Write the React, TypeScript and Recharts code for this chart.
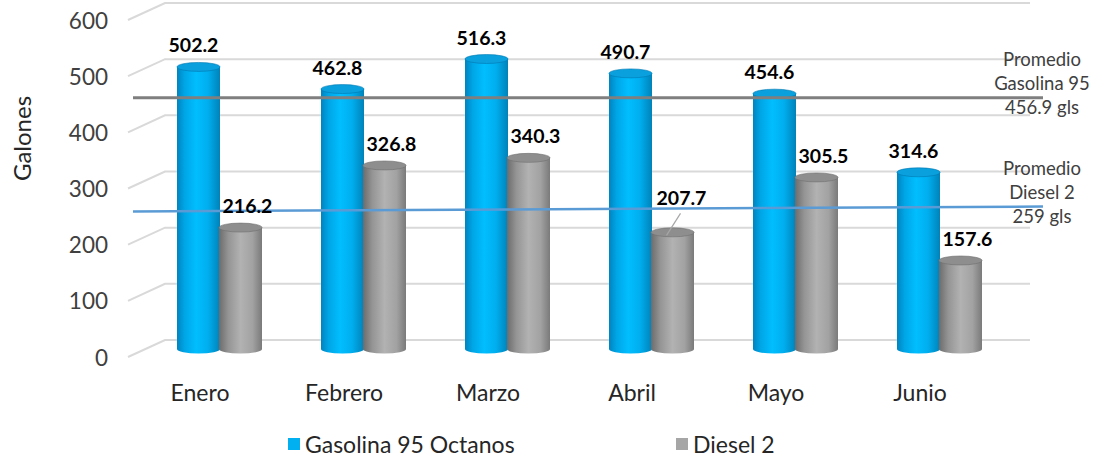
import React from 'react';
import { ComposedChart, Bar, XAxis, YAxis, CartesianGrid, ReferenceLine, LabelList } from 'recharts';

const months = ['Enero', 'Febrero', 'Marzo', 'Abril', 'Mayo', 'Junio'];
const gasolina95 = [502.2, 462.8, 516.3, 490.7, 454.6, 314.6];
const diesel2 = [216.2, 326.8, 340.3, 207.7, 305.5, 157.6];
const yTicks = [0, 100, 200, 300, 400, 500, 600];
const avgGasolina = 456.9;
const avgDiesel = 259;
const avgGasolinaLabel = ['Promedio', 'Gasolina 95', '456.9 gls'];
const avgDieselLabel = ['Promedio', 'Diesel 2', '259 gls'];
const seriesNames = ['Gasolina 95 Octanos', 'Diesel 2'];

const data = months.map((m, i) => ({ month: m, gas: gasolina95[i], diesel: diesel2[i] }));

const FONT = "Lato, 'Open Sans', sans-serif";
const BLUE = '#00B0F0';
const GRAY = '#A6A6A6';

const palettes: Record<string, { stops: [number, string][]; top: string; topEdge: string }> = {
  blue: {
    stops: [[0, '#0084BF'], [0.18, '#00A6E6'], [0.45, '#00BEFF'], [0.72, '#00AEEE'], [1, '#0082BA']],
    top: '#0A9FDD',
    topEdge: '#0078B0',
  },
  gray: {
    stops: [[0, '#6C6C6C'], [0.22, '#959595'], [0.5, '#B2B2B2'], [0.78, '#A2A2A2'], [1, '#7A7A7A']],
    top: '#8E8E8E',
    topEdge: '#6E6E6E',
  },
};

const makeCylinder = (kind: string) => (props: any) => {
  const { x, y, width, height, index } = props;
  if (width == null || height == null) return null;
  const p = palettes[kind];
  const id = `cyl-${kind}-${index}`;
  const ry = 4.5;
  const cx = x + width / 2;
  const rx = width / 2;
  return (
    <g>
      <defs>
        <linearGradient id={id} x1="0" y1="0" x2="1" y2="0">
          {p.stops.map(([o, c], k) => (
            <stop key={k} offset={o} stopColor={c} />
          ))}
        </linearGradient>
      </defs>
      <ellipse cx={cx} cy={y + height} rx={rx} ry={ry} fill={`url(#${id})`} />
      <rect x={x} y={y} width={width} height={height} fill={`url(#${id})`} />
      <ellipse cx={cx} cy={y} rx={rx} ry={ry} fill={p.top} stroke={p.topEdge} strokeWidth={0.6} />
    </g>
  );
};

const makeLabel = (kind: string) => (props: any) => {
  const { x, y, width, value, index } = props;
  const cx = x + width / 2;
  const lifted = kind === 'gray' && index === 3;
  const dx = kind === 'blue' ? -5 : 7;
  const ty = lifted ? y - 35 : y - 22;
  return (
    <g>
      {lifted && <line x1={cx - 6} y1={y + 3} x2={cx + 8} y2={y - 19} stroke="#A6A6A6" strokeWidth={1.2} />}
      <text x={cx + (lifted ? 9 : dx)} y={ty} textAnchor="middle" dominantBaseline="central"
        fontFamily={FONT} fontWeight={700} fontSize={19.5} fill="#000">
        {Number(value).toFixed(1)}
      </text>
    </g>
  );
};

const gridShape = (props: any) => {
  const { x1, x2, y1 } = props;
  return (
    <path
      d={`M${x1 - 19},${y1 + 8} L${x1 + 18},${y1 - 9} L${x2 + 19},${y1 - 9}`}
      fill="none"
      stroke="#D9D9D9"
      strokeWidth={2}
    />
  );
};

const YTick = (props: any) => {
  const { x, y, payload } = props;
  return (
    <text x={x - 39} y={y + 8} textAnchor="end" dominantBaseline="central" fontFamily={FONT} fontSize={22.5} fill="#404040">
      {payload.value}
    </text>
  );
};

const XTick = (props: any) => {
  const { x, y, payload } = props;
  return (
    <text x={x - 19} y={y + 43} textAnchor="middle" dominantBaseline="central" fontFamily={FONT} fontSize={23} fill="#262626">
      {payload.value}
    </text>
  );
};

const avgShape = (color: string, width: number, lines: string[], dl: number, dr: number) => (props: any) => {
  const { x1, x2, y1 } = props;
  const yl = y1 + dl;
  const yr = y1 + dr;
  const tx = x2 + 31;
  return (
    <g>
      <line x1={x1 - 14} y1={yl} x2={x2 + 32} y2={yr} stroke={color} strokeWidth={width} />
      {lines.map((t, k) => (
        <text key={k} x={tx} y={yr - 39 + k * 24} textAnchor="middle" dominantBaseline="central"
          fontFamily={FONT} fontSize={18.5} fill="#404040">
          {t}
        </text>
      ))}
    </g>
  );
};

export default function App() {
  return (
    <div style={{ position: 'absolute', left: 0, top: 0, width: 1094, height: 464, background: '#fff' }}>
      <ComposedChart width={1094} height={464} data={data} margin={{ top: 12, right: 83, left: 0, bottom: 85 }}
        barCategoryGap={58} barGap={-1}>
        <CartesianGrid vertical={false} horizontal={gridShape} />
        <XAxis dataKey="month" axisLine={false} tickLine={false} tickSize={0} tickMargin={0} height={30} tick={XTick} interval={0} />
        <YAxis domain={[0, 600]} ticks={yTicks} axisLine={false} tickLine={false} tickSize={0} tickMargin={0} width={147}
          tick={YTick}
          label={{
            content: (p: any) => {
              const vb = p.viewBox || { x: 0, y: 12, height: 337 };
              const cx = 21;
              const cy = vb.y + vb.height / 2 - 42;
              return (
                <text x={cx} y={cy} transform={`rotate(-90 ${cx} ${cy})`} textAnchor="middle" dominantBaseline="central"
                  fontFamily={FONT} fontSize={24} fill="#262626">Galones</text>
              );
            },
          }}
        />
        <Bar dataKey="gas" name={seriesNames[0]} fill={BLUE} barSize={43} shape={makeCylinder('blue')} isAnimationActive={false}>
          <LabelList dataKey="gas" content={makeLabel('blue')} />
        </Bar>
        <Bar dataKey="diesel" name={seriesNames[1]} fill={GRAY} barSize={43} shape={makeCylinder('gray')} isAnimationActive={false}>
          <LabelList dataKey="diesel" content={makeLabel('gray')} />
        </Bar>
        <ReferenceLine y={avgGasolina} shape={avgShape('#7F7F7F', 3, avgGasolinaLabel, 5.5, 5.5)} />
        <ReferenceLine y={avgDiesel} shape={avgShape('#5B9BD5', 2.5, avgDieselLabel, 8, 3)} />
      </ComposedChart>
      <div style={{ position: 'absolute', top: 430, left: 288, display: 'flex', alignItems: 'center', fontFamily: FONT, fontSize: 23, color: '#262626' }}>
        <span style={{ width: 12, height: 12, background: BLUE, display: 'inline-block', marginRight: 5 }} />
        <span style={{ width: 371 }}>{seriesNames[0]}</span>
        <span style={{ width: 12, height: 12, background: GRAY, display: 'inline-block', marginRight: 5 }} />
        <span>{seriesNames[1]}</span>
      </div>
    </div>
  );
}
